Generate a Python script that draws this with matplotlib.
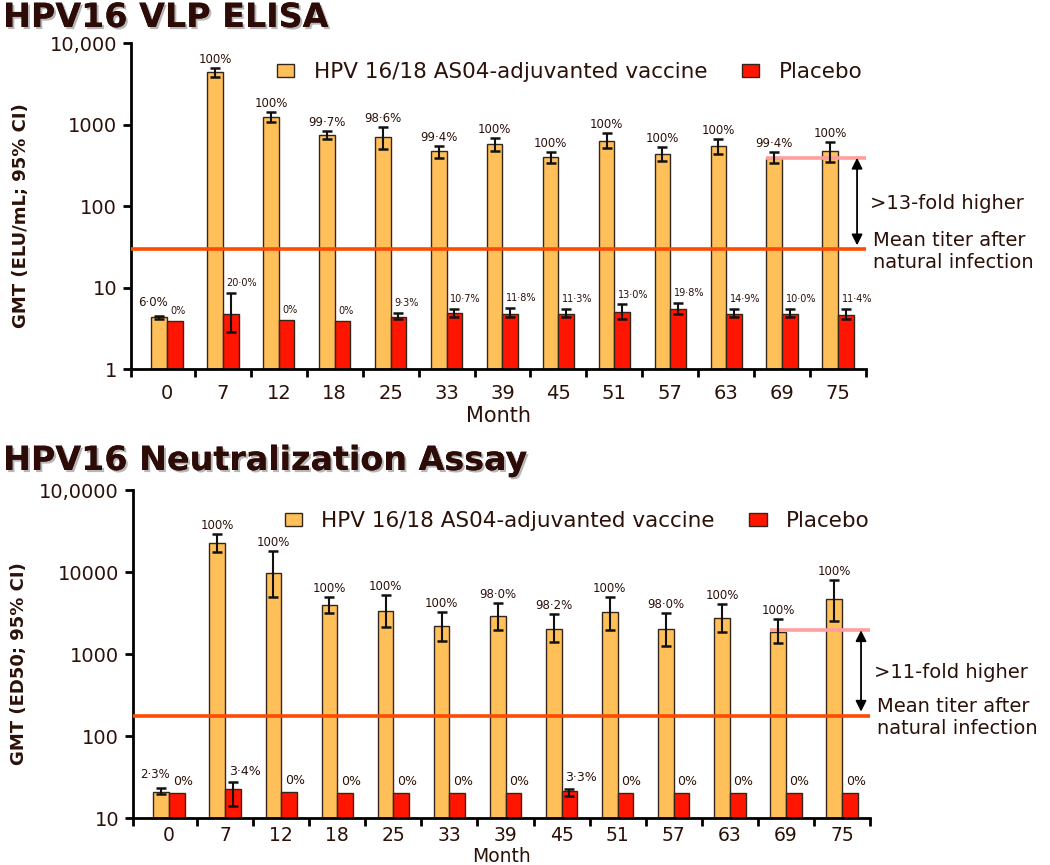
import matplotlib
matplotlib.use('Agg')
import matplotlib.pyplot as plt
import matplotlib.patheffects as pe
from matplotlib.ticker import NullLocator
from matplotlib.transforms import blended_transform_factory
import numpy as np

# ---------------- data ----------------
months = ['0', '7', '12', '18', '25', '33', '39', '45', '51', '57', '63', '69', '75']

# HPV16 VLP ELISA (EL.U/mL)
elisa_vac = [4.3, 4400, 1250, 743, 697, 469, 576, 403, 628, 435, 545, 385, 469]
elisa_vac_lo = [4.15, 3800, 1065, 658, 496, 385, 477, 334, 519, 357, 435, 334, 350]
elisa_vac_hi = [4.45, 4900, 1410, 840, 925, 550, 689, 464, 794, 525, 664, 464, 615]
elisa_pla = [3.88, 4.77, 3.99, 3.88, 4.38, 4.9, 4.73, 4.73, 5.0, 5.45, 4.69, 4.69, 4.6]
elisa_pla_lo = [None, 2.84, None, None, 4.07, 4.3, 4.3, 4.38, 4.14, 4.73, 4.38, 4.38, 4.1]
elisa_pla_hi = [None, 8.63, None, None, 4.9, 5.5, 5.55, 5.4, 6.2, 6.4, 5.45, 5.45, 5.45]
elisa_vac_pct = ['6·0%', '100%', '100%', '99·7%', '98·6%', '99·4%', '100%', '100%',
                 '100%', '100%', '100%', '99·4%', '100%']
elisa_pla_pct = ['0%', '20·0%', '0%', '0%', '9·3%', '10·7%', '11·8%', '11·3%',
                 '13·0%', '19·8%', '14·9%', '10·0%', '11·4%']
elisa_natural = 29.4
elisa_ref = 390
elisa_fold = '>13-fold higher'
elisa_yticks = [1, 10, 100, 1000, 10000]
elisa_yticklabels = ['1', '10', '100', '1000', '10,000']

# HPV16 Neutralization (ED50)
neut_vac = [20.9, 22700, 9640, 3960, 3370, 2215, 2900, 2040, 3280, 2000, 2720, 1870, 4690]
neut_vac_lo = [19.6, 17400, 5000, 3130, 2150, 1440, 1960, 1390, 1960, 1260, 1840, 1350, 2550]
neut_vac_hi = [23.0, 29000, 18000, 5000, 5250, 3220, 4150, 3070, 5000, 3130, 4070, 2670, 7980]
neut_pla = [20.4, 22.4, 20.6, 20.4, 20.0, 20.3, 20.0, 21.3, 20.0, 20.2, 20.2, 20.0, 20.2]
neut_pla_lo = [None, 14.0, None, None, None, None, None, 18.7, None, None, None, None, None]
neut_pla_hi = [None, 27.2, None, None, None, None, None, 22.4, None, None, None, None, None]
neut_vac_pct = ['2·3%', '100%', '100%', '100%', '100%', '100%', '98·0%', '98·2%',
                '100%', '98·0%', '100%', '100%', '100%']
neut_pla_pct = ['0%', '3·4%', '0%', '0%', '0%', '0%', '0%', '3·3%',
                '0%', '0%', '0%', '0%', '0%']
neut_natural = 177
neut_ref = 1945
neut_fold = '>11-fold higher'
neut_yticks = [10, 100, 1000, 10000, 100000]
neut_yticklabels = ['10', '100', '1000', '10000', '10,0000']

vac_name = 'HPV 16/18 AS04-adjuvanted vaccine'
pla_name = 'Placebo'

# ---------------- style ----------------
TXT = '#2b1108'
VAC_C = '#FFC05A'
PLA_C = '#FF1500'
EDGE = '#33261c'
NAT_C = '#FF4A00'
REF_C = '#FF9E9E'

plt.rcParams['font.family'] = ['DejaVu Sans']
plt.rcParams['text.color'] = TXT
plt.rcParams['axes.labelcolor'] = TXT
plt.rcParams['xtick.labelcolor'] = TXT
plt.rcParams['ytick.labelcolor'] = TXT

W, H = 1050, 865
fig = plt.figure(figsize=(W / 100, H / 100), dpi=100)


def panel(ax, vac, vlo, vhi, pla, plo, phi, vpct, ppct, natural, ref, fold,
          yticks, yticklabels, ylabel, ylabelpad, pla_fs, legend_y, legend_x):
    x = np.arange(len(months))
    w = 0.28
    ymin, ymax = yticks[0], yticks[-1]
    ax.set_yscale('log')
    ax.set_ylim(ymin, ymax)
    xl = -0.643
    ax.set_xlim(xl, len(months) - 0.5)

    vac = np.array(vac, float)
    pla = np.array(pla, float)
    bv = ax.bar(x - w / 2, vac - ymin, w, bottom=ymin, color=VAC_C, edgecolor=EDGE,
                linewidth=1.0, zorder=2, label=vac_name)
    bp = ax.bar(x + w / 2, pla - ymin, w, bottom=ymin, color=PLA_C, edgecolor=EDGE,
                linewidth=1.0, zorder=2, label=pla_name)

    ax.errorbar(x - w / 2, vac, yerr=[vac - np.array(vlo), np.array(vhi) - vac],
                fmt='none', ecolor='#111111', elinewidth=1.5, capsize=3.6,
                capthick=1.8, zorder=4)
    idx = [i for i in range(len(months)) if plo[i] is not None]
    if idx:
        pv = pla[idx]
        lo = np.array([plo[i] for i in idx])
        hi = np.array([phi[i] for i in idx])
        ax.errorbar(x[idx] + w / 2, pv, yerr=[pv - lo, hi - pv], fmt='none',
                    ecolor='#111111', elinewidth=1.5, capsize=3.6, capthick=1.8,
                    zorder=4)

    for i in range(len(months)):
        top = phi[i] if phi[i] is not None else pla[i]
        if vhi[i] < 2.5 * top:
            # low vaccine bar next to placebo: label sits left and a bit higher
            ax.annotate(vpct[i], xy=(x[i] - w / 2, vhi[i]), xytext=(6, 5),
                        textcoords='offset points', ha='right', va='bottom',
                        fontsize=8.5, color=TXT, zorder=5)
        else:
            ax.annotate(vpct[i], xy=(x[i] - w / 2, vhi[i]), xytext=(0, 1.5),
                        textcoords='offset points', ha='center', va='bottom',
                        fontsize=8.5, color=TXT, zorder=5)
        ax.annotate(ppct[i], xy=(x[i] + w / 2, top), xytext=(-3, 3.5),
                    textcoords='offset points', ha='left', va='bottom',
                    fontsize=pla_fs, color=TXT, zorder=5)

    ax.axhline(natural, color=NAT_C, lw=2.6, zorder=3)
    i69 = months.index('69')
    ax.hlines(ref, x[i69] - w, len(months) - 0.5, color=REF_C, lw=2.6, zorder=3,
              clip_on=False)
    xa = len(months) - 0.5 - 0.16
    ax.annotate('', xy=(xa, natural * 1.12), xytext=(xa, ref),
                arrowprops=dict(arrowstyle='<|-|>', color='black', lw=1.3,
                                mutation_scale=16, shrinkA=0, shrinkB=0),
                annotation_clip=False, zorder=5)
    tr = blended_transform_factory(ax.transAxes, ax.transData)
    ax.text(1.006, np.sqrt(ref * natural), fold, transform=tr, ha='left',
            va='center', fontsize=14, clip_on=False)
    ax.annotate('Mean titer after\nnatural infection', xy=(1.0, natural),
                xycoords=tr, xytext=(5, -1.5), textcoords='offset points',
                ha='left', va='center', fontsize=14, linespacing=1.2,
                annotation_clip=False)

    # axes styling
    for s in ('top', 'right'):
        ax.spines[s].set_visible(False)
    for s in ('left', 'bottom'):
        ax.spines[s].set_linewidth(2.0)
        ax.spines[s].set_color('black')
    ax.set_yticks(yticks)
    ax.set_yticklabels(yticklabels)
    ax.yaxis.set_minor_locator(NullLocator())
    ax.tick_params(axis='y', which='major', length=6, width=2.0, pad=4,
                   labelsize=14)
    ax.set_xticks(x)
    ax.set_xticklabels(months)
    ax.set_xticks([xl] + list(x[:-1] + 0.5) + [len(months) - 0.5], minor=True)
    ax.tick_params(axis='x', which='major', length=0, pad=11, labelsize=14)
    ax.tick_params(axis='x', which='minor', length=6, width=2.0)
    ax.set_ylabel(ylabel, fontsize=13, fontweight='bold', labelpad=ylabelpad)
    ax.yaxis.label.set_y(0.5 - 10 / 326)

    ax.legend(handles=[bv, bp], loc='center left', bbox_to_anchor=(legend_x, legend_y),
              ncol=2, frameon=False, fontsize=15.5, handlelength=0.8,
              handleheight=0.55, handletextpad=0.9, columnspacing=1.6,
              borderaxespad=0, borderpad=0)


ax1 = fig.add_axes([131 / W, 1 - 369 / H, 735 / W, 326 / H])
panel(ax1, elisa_vac, elisa_vac_lo, elisa_vac_hi, elisa_pla, elisa_pla_lo,
      elisa_pla_hi, elisa_vac_pct, elisa_pla_pct, elisa_natural, elisa_ref,
      elisa_fold, elisa_yticks, elisa_yticklabels, 'GMT (ELU/mL; 95% CI)', 14,
      7, 0.911, 0.199)
ax1.set_xlabel('Month', fontsize=15, labelpad=2)

ax2 = fig.add_axes([133 / W, 1 - 818 / H, 737 / W, 328 / H])
panel(ax2, neut_vac, neut_vac_lo, neut_vac_hi, neut_pla, neut_pla_lo,
      neut_pla_hi, neut_vac_pct, neut_pla_pct, neut_natural, neut_ref,
      neut_fold, neut_yticks, neut_yticklabels, 'GMT (ED50; 95% CI)', 8,
      9, 0.905, 0.206)
ax2.tick_params(axis='x', which='major', pad=6, labelsize=13.5)
ax2.set_xlabel('Month', fontsize=13.5, labelpad=1)

shadow = [pe.withSimplePatchShadow(offset=(1.5, -1.5), shadow_rgbFace='#888888',
                                   alpha=0.6), pe.Normal()]
fig.text(3 / W, 1 - 1 / H, 'HPV16 VLP ELISA', ha='left', va='top', fontsize=24,
         fontweight='bold', color='#2d0c08', path_effects=shadow)
fig.text(3 / W, 1 - 444 / H, 'HPV16 Neutralization Assay', ha='left', va='top',
         fontsize=24, fontweight='bold', color='#2d0c08', path_effects=shadow)

fig.savefig('out.png', dpi=100)
